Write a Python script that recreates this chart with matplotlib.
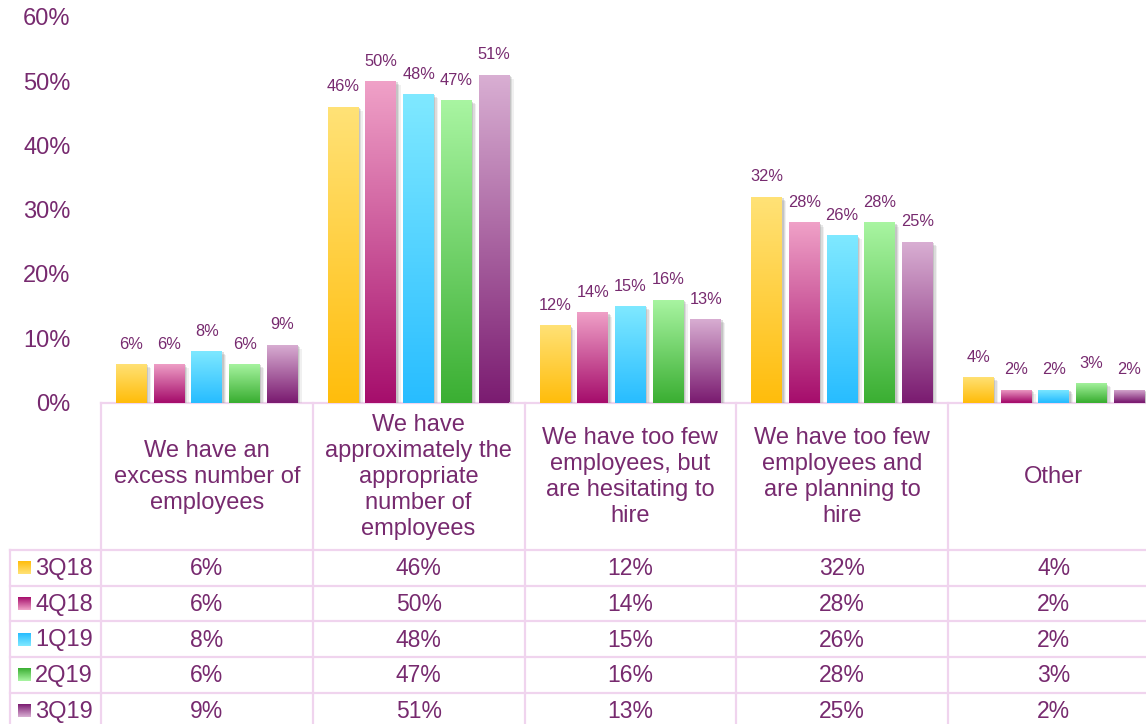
import matplotlib
matplotlib.use('Agg')
import matplotlib.pyplot as plt
import numpy as np
from matplotlib.colors import LinearSegmentedColormap
from matplotlib.patches import Rectangle
from matplotlib import patheffects
from matplotlib.ticker import FuncFormatter

plt.rcParams['font.family'] = ['Liberation Sans', 'DejaVu Sans']

categories = ['We have an\nexcess number of\nemployees',
              'We have\napproximately the\nappropriate\nnumber of\nemployees',
              'We have too few\nemployees, but\nare hesitating to\nhire',
              'We have too few\nemployees and\nare planning to\nhire',
              'Other']
quarters = ['3Q18', '4Q18', '1Q19', '2Q19', '3Q19']
q3_18 = [6, 46, 12, 32, 4]
q4_18 = [6, 50, 14, 28, 2]
q1_19 = [8, 48, 15, 26, 2]
q2_19 = [6, 47, 16, 28, 3]
q3_19 = [9, 51, 13, 25, 2]
series = [q3_18, q4_18, q1_19, q2_19, q3_19]

# (bottom, top) colours of each series gradient
grads = [('#FFBD0C', '#FFE277'),
         ('#A60E6C', '#F0A2C8'),
         ('#28BDFF', '#80E9FF'),
         ('#3BAF33', '#A9F5A2'),
         ('#7B1C71', '#D9AFD3')]
txt = '#772A6F'
line_col = '#F0D4EE'

W, H = 1146, 724
fig = plt.figure(figsize=(W / 100, H / 100), dpi=100)

col_w = 211.75
x_left = 101
y0, y60 = 402.5, 16.7
ax = fig.add_axes([x_left / W, 1 - y0 / H, (W - x_left) / W, (y0 - y60) / H])

slot = 0.178
bw = 0.146
grad = np.linspace(0, 1, 256).reshape(-1, 1)
shadow = [patheffects.SimplePatchShadow(offset=(3, -3), shadow_rgbFace='#b0b0b0', alpha=0.18),
          patheffects.SimplePatchShadow(offset=(2, -2), shadow_rgbFace='#a0a0a0', alpha=0.25),
          patheffects.SimplePatchShadow(offset=(1, -1), shadow_rgbFace='#909090', alpha=0.3),
          patheffects.Normal()]
for s, vals in enumerate(series):
    cmap = LinearSegmentedColormap.from_list('g%d' % s, grads[s])
    for i, v in enumerate(vals):
        xc = i + 0.5 + (s - 2) * slot
        rect = Rectangle((xc - bw / 2, 0), bw, v, facecolor=grads[s][0], edgecolor='none', zorder=2)
        rect.set_path_effects(shadow)
        ax.add_patch(rect)
        im = ax.imshow(grad, cmap=cmap, origin='lower', aspect='auto',
                       extent=(xc - bw / 2, xc + bw / 2, 0, v), zorder=3)
        im.set_clip_path(rect)
        ax.annotate('%d%%' % v, (xc, v), xytext=(0, 11), textcoords='offset points',
                    ha='center', va='baseline', fontsize=11.8, color=txt, zorder=4)

ax.set_xlim(0, (W - x_left) / col_w)
ax.set_ylim(0, 60)
ax.set_yticks(np.arange(0, 61, 10))
ax.yaxis.set_major_formatter(FuncFormatter(lambda v, p: '%d%%' % v))
ax.tick_params(axis='y', length=0, pad=22, labelsize=17, labelcolor=txt)
ax.set_xticks([])
for sp in ax.spines.values():
    sp.set_visible(False)
ax.patch.set_alpha(0)

# data table below the plot, laid out in pixel units
tab = fig.add_axes([0, 0, 1, 1], zorder=-1)
tab.set_xlim(0, W)
tab.set_ylim(H, 0)
tab.axis('off')

row_top = 550
row_h = 35.7
lw = 1.6
tab.plot([x_left, W], [y0, y0], color=line_col, lw=lw)
for r in range(len(quarters)):
    yy = row_top + r * row_h
    tab.plot([10, W], [yy, yy], color=line_col, lw=lw)
tab.plot([10, 10], [row_top, H], color=line_col, lw=lw)
for i in range(len(categories) + 1):
    xx = x_left + i * col_w
    tab.plot([xx, xx], [y0, H], color=line_col, lw=lw)

for i, cat in enumerate(categories):
    xc = x_left + (i + 0.5) * col_w
    tab.text(xc, (y0 + row_top) / 2 + 1, cat, ha='center', va='center', fontsize=17,
             color=txt, linespacing=1.24)

for r, q in enumerate(quarters):
    yc = row_top + (r + 0.5) * row_h
    sw = np.linspace(0, 1, 64).reshape(-1, 1)
    cm = LinearSegmentedColormap.from_list('s%d' % r, grads[r])
    tab.imshow(sw, cmap=cm, origin='upper', aspect='auto', extent=(18, 31, yc + 6.5, yc - 6.5))
    tab.text(35, yc + 1, q, ha='left', va='center', fontsize=17, color=txt)
    for i, v in enumerate(series[r]):
        xc = x_left + (i + 0.5) * col_w
        tab.text(xc, yc + 1, '%d%%' % v, ha='center', va='center', fontsize=16.5, color=txt)

tab.set_xlim(0, W)
tab.set_ylim(H, 0)

fig.savefig('out.png', dpi=100)
